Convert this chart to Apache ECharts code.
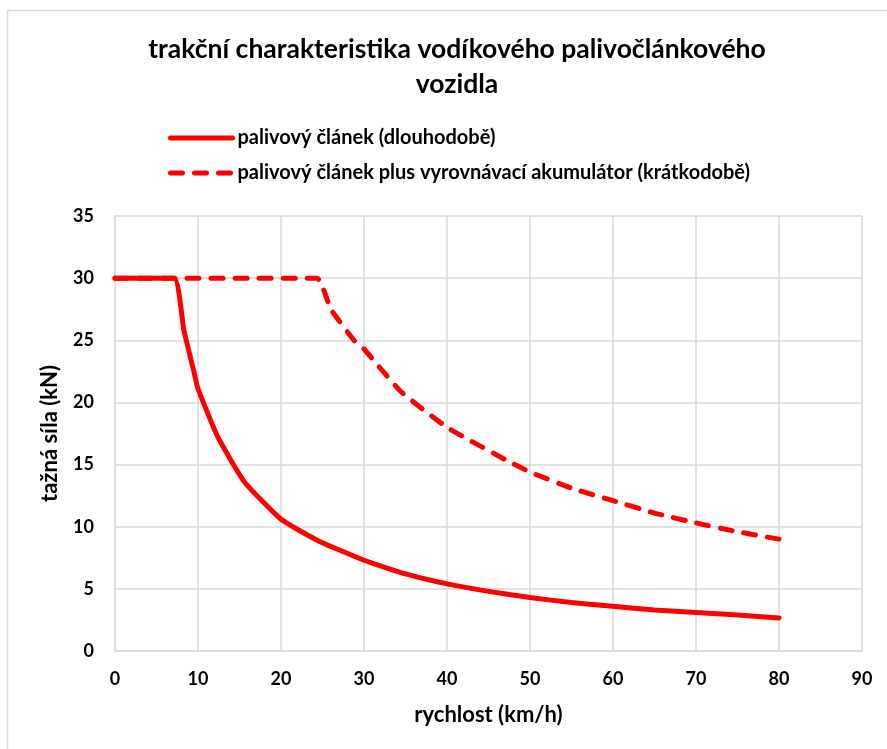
<!DOCTYPE html>
<html>
<head>
<meta charset="utf-8">
<script src="https://cdn.jsdelivr.net/npm/echarts@6/dist/echarts.min.js"></script>
<style>
  html, body { margin: 0; padding: 0; background: #fff; }
  #main { width: 887px; height: 749px; }
</style>
</head>
<body>
<div id="main"></div>
<script>
var myChart = echarts.init(document.getElementById('main'))

// rychlost (km/h), tažná síla (kN)
var fcSpeed = [0, 7.1, 8.3, 9.5, 10, 12.4, 15.6, 20, 24.4, 30, 35, 40, 45, 50, 55, 60, 65, 70, 75, 80]
var fcForce = [30, 30, 25.8, 22.5, 21.1, 17.2, 13.6, 10.6, 8.9, 7.3, 6.2, 5.4, 4.8, 4.3, 3.9, 3.6, 3.3, 3.1, 2.9, 2.66]

var accSpeed = [0, 24.3, 26, 28.8, 30, 34.4, 40, 47.3, 50, 55, 60, 65, 70, 75, 80]
var accForce = [30, 30, 27.5, 25, 24.3, 20.9, 18, 15.3, 14.4, 13.1, 12.1, 11.1, 10.3, 9.6, 9.0]

var names = [
  'palivový článek (dlouhodobě)',
  'palivový článek plus vyrovnávací akumulátor (krátkodobě)'
]

function pairs(xs, ys) {
  return xs.map(function(x, i) {
    return [x, ys[i]]
  })
}

var font = 'Lato, "Open Sans", sans-serif'
var dash = [12, 12]

option = {
  backgroundColor: '#fff',
  textStyle: { fontFamily: font },
  title: {
    text: 'trakční charakteristika vodíkového palivočlánkového\nvozidla',
    left: 452,
    textAlign: 'center',
    top: 27,
    textStyle: {
      fontFamily: font,
      fontSize: 26.5,
      fontWeight: 'bold',
      color: '#000',
      lineHeight: 35
    }
  },
  legend: {
    orient: 'vertical',
    left: 163,
    top: 121,
    itemWidth: 62,
    itemHeight: 14,
    itemGap: 11,
    itemStyle: { opacity: 0 },
    data: [
      { name: names[0], lineStyle: { width: 5, cap: 'round' } },
      { name: names[1], lineStyle: { width: 5, cap: 'round', type: dash } }
    ],
    textStyle: {
      fontFamily: font,
      fontSize: 20,
      lineHeight: 24,
      fontWeight: 'bold',
      color: '#000'
    }
  },
  grid: {
    left: 115,
    right: 25,
    top: 216,
    bottom: 98
  },
  xAxis: {
    type: 'value',
    min: 0,
    max: 90,
    interval: 10,
    name: 'rychlost (km/h)',
    nameLocation: 'middle',
    nameGap: 53,
    nameTextStyle: { fontFamily: font, fontSize: 22, fontWeight: 'bold', color: '#000' },
    axisLine: { lineStyle: { color: '#d9d9d9', width: 1.5 } },
    axisTick: { show: false },
    axisLabel: { margin: 19, fontFamily: font, fontSize: 18, fontWeight: 'bold', color: '#000' },
    splitLine: { show: true, lineStyle: { color: '#d9d9d9', width: 1.5 } }
  },
  yAxis: {
    type: 'value',
    min: 0,
    max: 35,
    interval: 5,
    name: 'tažná síla (kN)',
    nameLocation: 'middle',
    nameGap: 54,
    nameTextStyle: { fontFamily: font, fontSize: 22, fontWeight: 'bold', color: '#000' },
    axisLine: { show: true, lineStyle: { color: '#d9d9d9', width: 1.5 } },
    axisTick: { show: false },
    axisLabel: { margin: 21, fontFamily: font, fontSize: 18, fontWeight: 'bold', color: '#000' },
    splitLine: { show: true, lineStyle: { color: '#d9d9d9', width: 1.5 } }
  },
  graphic: [
    {
      type: 'rect',
      shape: { x: 7.5, y: 10.5, width: 900, height: 800 },
      style: { fill: 'none', stroke: '#d9d9d9', lineWidth: 1.5 },
      silent: true
    }
  ],
  series: [
    {
      name: names[0],
      type: 'line',
      data: pairs(fcSpeed, fcForce),
      showSymbol: false,
      symbol: 'none',
      smooth: 0.15,
      itemStyle: { color: '#ff0000' },
      lineStyle: { color: '#ff0000', width: 5, cap: 'round', join: 'round' }
    },
    {
      name: names[1],
      type: 'line',
      data: pairs(accSpeed, accForce),
      showSymbol: false,
      symbol: 'none',
      smooth: 0.15,
      itemStyle: { color: '#ff0000' },
      lineStyle: { color: '#ff0000', width: 5, type: dash, cap: 'round', join: 'round' }
    }
  ]
}
myChart.setOption(option)
window.onresize = function() {
  myChart.resize()
}
</script>
</body>
</html>
